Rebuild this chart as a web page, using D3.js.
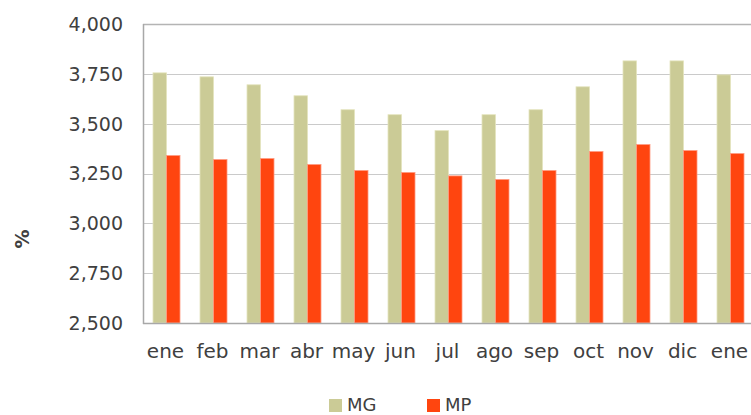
<!DOCTYPE html>
<meta charset="utf-8">
<style>
  body { margin: 0; background: #fff; }
  text { font-family: "DejaVu Sans", sans-serif; fill: #404040; }
</style>
<body id="chart"></body>
<script src="https://cdn.jsdelivr.net/npm/d3@7"></script>
<script>
// months (the last "ene" is January of the next year)
var months = ["ene", "feb", "mar", "abr", "may", "jun", "jul", "ago", "sep", "oct", "nov", "dic", "ene"];
var mg = [3755, 3735, 3695, 3640, 3570, 3545, 3465, 3545, 3570, 3685, 3815, 3815, 3745];
var mp = [3340, 3320, 3325, 3295, 3265, 3255, 3238, 3220, 3265, 3360, 3395, 3365, 3350];
var seriesNames = ["MG", "MP"];
var seriesColors = ["#cbcb96", "#ff450f"];
var seriesStroke = ["#e4e4be", "#ff9a80"];
var yTicks = [2500, 2750, 3000, 3250, 3500, 3750, 4000];

var width = 751, height = 415;
var margin = {top: 24, left: 143, bottom: 92};
var plotW = 47 * months.length,
    plotH = height - margin.top - margin.bottom;

var svg = d3.select("#chart").append("svg")
    .attr("width", width)
    .attr("height", height);

var x = d3.scaleBand()
    .domain(d3.range(months.length))
    .range([margin.left, margin.left + plotW])
    .paddingInner(20 / 47)
    .paddingOuter(10 / 47);

var xs = d3.scaleBand()
    .domain(seriesNames)
    .range([0, x.bandwidth()]);

var y = d3.scaleLinear()
    .domain([2500, 4000])
    .range([margin.top + plotH, margin.top]);

// gridlines
svg.append("g")
    .selectAll("line")
    .data(yTicks)
    .enter().append("line")
    .attr("x1", margin.left)
    .attr("x2", margin.left + plotW)
    .attr("y1", function (d) { return Math.round(y(d)) + 0.5; })
    .attr("y2", function (d) { return Math.round(y(d)) + 0.5; })
    .attr("stroke", function (d) { return d == 4000 ? "#b4b4b4" : "#cacaca"; })
    .attr("stroke-width", function (d) { return d == 4000 ? 1.5 : 1.2; });

// bars
var data = [mg, mp];
data.forEach(function (vals, s) {
    svg.append("g")
        .selectAll("rect")
        .data(vals)
        .enter().append("rect")
        .attr("x", function (d, i) { return x(i) + xs(seriesNames[s]); })
        .attr("width", xs.bandwidth())
        .attr("y", function (d) { return y(d); })
        .attr("height", function (d) { return y(2500) - y(d); })
        .attr("fill", seriesColors[s])
        .attr("stroke", seriesStroke[s])
        .attr("stroke-width", 0.8);
});

// axis lines
svg.append("line")
    .attr("x1", margin.left + 0.5).attr("x2", margin.left + 0.5)
    .attr("y1", margin.top).attr("y2", y(2500) + 1)
    .attr("stroke", "#a8a8a8").attr("stroke-width", 1.5);
svg.append("line")
    .attr("x1", margin.left).attr("x2", margin.left + plotW)
    .attr("y1", Math.round(y(2500)) + 0.5).attr("y2", Math.round(y(2500)) + 0.5)
    .attr("stroke", "#a8a8a8").attr("stroke-width", 1.5);

// y tick labels
svg.append("g")
    .selectAll("text")
    .data(yTicks)
    .enter().append("text")
    .attr("x", 123)
    .attr("y", function (d) { return y(d); })
    .attr("dy", "0.36em")
    .attr("text-anchor", "end")
    .style("font-size", "19px")
    .text(d3.format(",")) ;

// x labels
svg.append("g")
    .selectAll("text")
    .data(months)
    .enter().append("text")
    .attr("x", function (d, i) { return x(i) + x.bandwidth() / 2 - 1; })
    .attr("y", 358)
    .attr("text-anchor", "middle")
    .style("font-size", "20px")
    .text(function (d) { return d; });

// y title
svg.append("text")
    .attr("transform", "translate(29,239) rotate(-90)")
    .attr("text-anchor", "middle")
    .style("font-size", "19px")
    .style("font-weight", "bold")
    .text("%");

// legend
var legX = [329, 427];
seriesNames.forEach(function (n, s) {
    svg.append("rect")
        .attr("x", legX[s]).attr("y", 399)
        .attr("width", 13).attr("height", 13)
        .attr("fill", seriesColors[s]);
    svg.append("text")
        .attr("x", legX[s] + 18).attr("y", 411)
        .style("font-size", "18px")
        .text(n);
});
</script>
